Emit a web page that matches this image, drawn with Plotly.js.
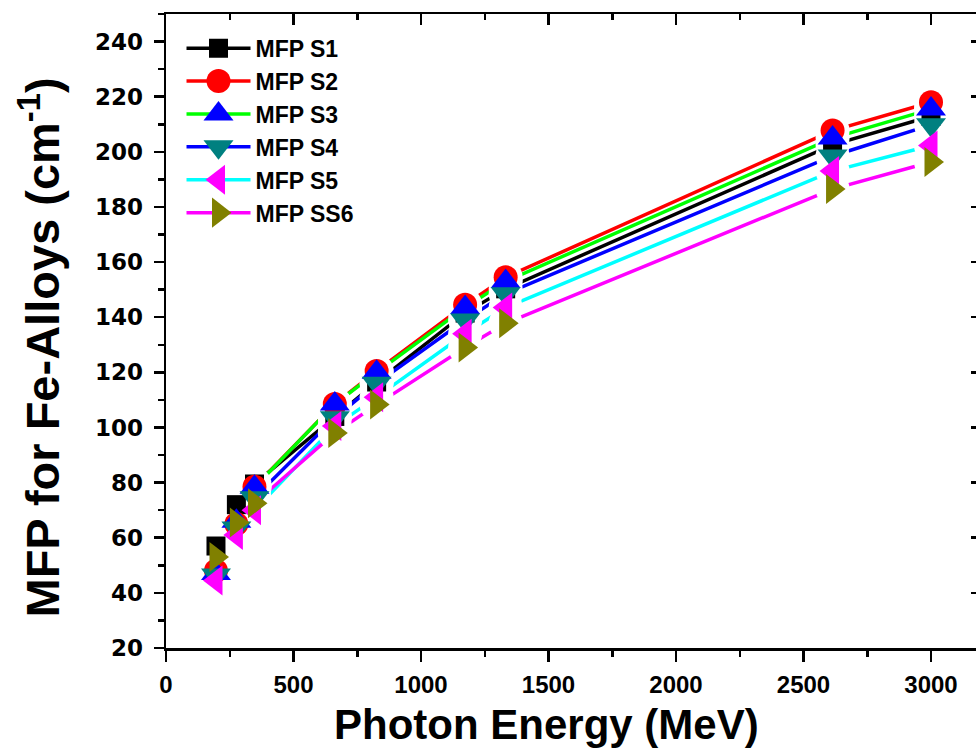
<!DOCTYPE html>
<html><head><meta charset="utf-8">
<script src="https://cdn.plot.ly/plotly-3.0.1.min.js"></script>
<style>html,body{margin:0;padding:0;overflow:hidden;background:#fff;} #chart{width:986px;height:749px;}</style>
</head><body><div id="chart"></div>
<script>
// Photon energy values (x axis)
const energy = [196, 276, 347, 662, 826, 1173, 1332, 2614, 3000];
// MFP values for each alloy series
const mfpS1  = [57.0, 72.0, 79.5, 104.0, 116.5, 141.5, 150.3, 202.5, 212.9];
const mfpS2  = [48.0, 65.0, 78.5, 108.5, 120.5, 144.5, 154.5, 207.7, 218.0];
const mfpS3  = [47.0, 66.0, 78.3, 108.5, 120.0, 143.5, 153.0, 205.0, 215.5];
const mfpS4  = [46.5, 63.5, 74.5, 103.5, 116.0, 139.0, 148.5, 198.5, 209.8];
const mfpS5  = [44.5, 61.0, 70.0, 100.5, 111.0, 134.0, 143.5, 193.0, 202.3];
const mfpSS6 = [53.0, 65.5, 72.5,  98.0, 108.3, 129.0, 137.8, 186.5, 196.3];

const seriesNames = ['MFP S1', 'MFP S2', 'MFP S3', 'MFP S4', 'MFP S5', 'MFP SS6'];
const seriesValues = [mfpS1, mfpS2, mfpS3, mfpS4, mfpS5, mfpSS6];
const lineColors = ['#000000', '#FF0000', '#00FF00', '#0000FF', '#00FFFF', '#FF00FF'];
const markerColors = ['#000000', '#FF0000', '#0000FF', '#008080', '#FF00FF', '#808000'];
const markerSymbols = ['square', 'circle', 'triangle-up', 'triangle-down', 'triangle-left', 'triangle-right'];
const markerSizes = [19, 24, 26, 26, 26, 26];

const xTitle = 'Photon Energy (MeV)';
const yTitle = 'MFP for Fe-Alloys (cm<sup>-1</sup>)';

const LINE_W = 3.5;
const traces = [];
// 1. lines
seriesValues.forEach((vals, i) => {
  traces.push({x: energy, y: vals, mode: 'lines', line: {color: lineColors[i], width: LINE_W},
    showlegend: false, hoverinfo: 'skip'});
});
// 2. white halos (gap between line and symbol)
seriesValues.forEach((vals, i) => {
  traces.push({x: energy, y: vals, mode: 'markers', marker: {symbol: 'circle', size: 34, color: '#ffffff'},
    showlegend: false, hoverinfo: 'skip'});
});
// 3. symbols
seriesValues.forEach((vals, i) => {
  traces.push({x: energy, y: vals, mode: 'markers', name: seriesNames[i],
    marker: {symbol: markerSymbols[i], size: markerSizes[i], color: markerColors[i], line: {width: 0}},
    showlegend: false});
});
// 4. legend entries
seriesValues.forEach((vals, i) => {
  traces.push({x: [null], y: [null], mode: 'lines+markers', name: seriesNames[i],
    line: {color: lineColors[i], width: LINE_W},
    marker: {symbol: markerSymbols[i], size: markerSizes[i], color: markerColors[i], line: {width: 0}}});
});
// dummy trace for mirrored axes
traces.push({x: [null], y: [null], xaxis: 'x2', yaxis: 'y2', mode: 'markers', showlegend: false, hoverinfo: 'skip'});

const xRange = [0, 3200];
const yRange = [20, 250];
const axisCommon = {showgrid: false, zeroline: false, showline: true, linecolor: '#000', linewidth: 2.5,
  tickcolor: '#000', tickwidth: 2.5};

const layout = {
  width: 986, height: 749,
  margin: {l: 166, r: 4, t: 14, b: 101},
  paper_bgcolor: '#fff', plot_bgcolor: '#fff',
  showlegend: true,
  font: {family: 'Arial, Liberation Sans, sans-serif', color: '#000'},
  xaxis: Object.assign({}, axisCommon, {
    range: xRange, tick0: 0, dtick: 500, ticks: 'outside', ticklen: 11,
    minor: {ticks: 'outside', ticklen: 6, dtick: 250, tickwidth: 2.5, tickcolor: '#000'},
    tickfont: {family: 'Arial, Liberation Sans, sans-serif', size: 24, weight: 'bold', color: '#000'},
    ticklabelstandoff: 3
  }),
  yaxis: Object.assign({}, axisCommon, {
    range: yRange, tick0: 0, dtick: 20, ticks: 'outside', ticklen: 10,
    minor: {ticks: 'outside', ticklen: 6, dtick: 10, tickwidth: 2.5, tickcolor: '#000'},
    tickfont: {family: 'DejaVu Sans, sans-serif', size: 23, weight: 'bold', color: '#000'},
    ticklabelstandoff: 6
  }),
  xaxis2: Object.assign({}, axisCommon, {
    range: xRange, tick0: 0, dtick: 500, ticks: 'inside', ticklen: 11, side: 'top', overlaying: 'x', anchor: 'y',
    minor: {ticks: 'inside', ticklen: 6, dtick: 250, tickwidth: 2.5, tickcolor: '#000'},
    showticklabels: false
  }),
  yaxis2: Object.assign({}, axisCommon, {
    range: yRange, tick0: 0, dtick: 20, ticks: 'inside', ticklen: 11, side: 'right', overlaying: 'y', anchor: 'x',
    minor: {ticks: 'inside', ticklen: 6, dtick: 10, tickwidth: 2.5, tickcolor: '#000'},
    showticklabels: false
  }),
  legend: {x: 0.019, y: 0.98, xanchor: 'left', yanchor: 'top', bgcolor: 'rgba(0,0,0,0)', borderwidth: 0,
    itemwidth: 64, font: {family: 'Arial, Liberation Sans, sans-serif', size: 23, weight: 'bold', color: '#000'}},
  annotations: [
    {text: xTitle, xref: 'paper', yref: 'paper', x: 0.4663, y: -0.121, xanchor: 'center', yanchor: 'middle',
      showarrow: false, font: {family: 'Arial, Liberation Sans, sans-serif', size: 42, weight: 'bold', color: '#000'}},
    {text: yTitle, xref: 'paper', yref: 'paper', x: -0.1544, y: 0.474, xanchor: 'center', yanchor: 'middle',
      textangle: -90, showarrow: false,
      font: {family: 'Arial, Liberation Sans, sans-serif', size: 47, weight: 'bold', color: '#000'}}
  ]
};

Plotly.newPlot('chart', traces, layout, {staticPlot: true}).then(() => {
  // enlarge legend symbols to the trace's marker size
  const pts = document.querySelectorAll('.legend .legendpoints path.scatterpts');
  pts.forEach((p, idx) => {
    const k = markerSizes[idx % markerSizes.length] / 16;
    const t = p.getAttribute('transform') || '';
    p.setAttribute('transform', t + ' scale(' + k + ')');
  });
});
</script>
</body></html>
